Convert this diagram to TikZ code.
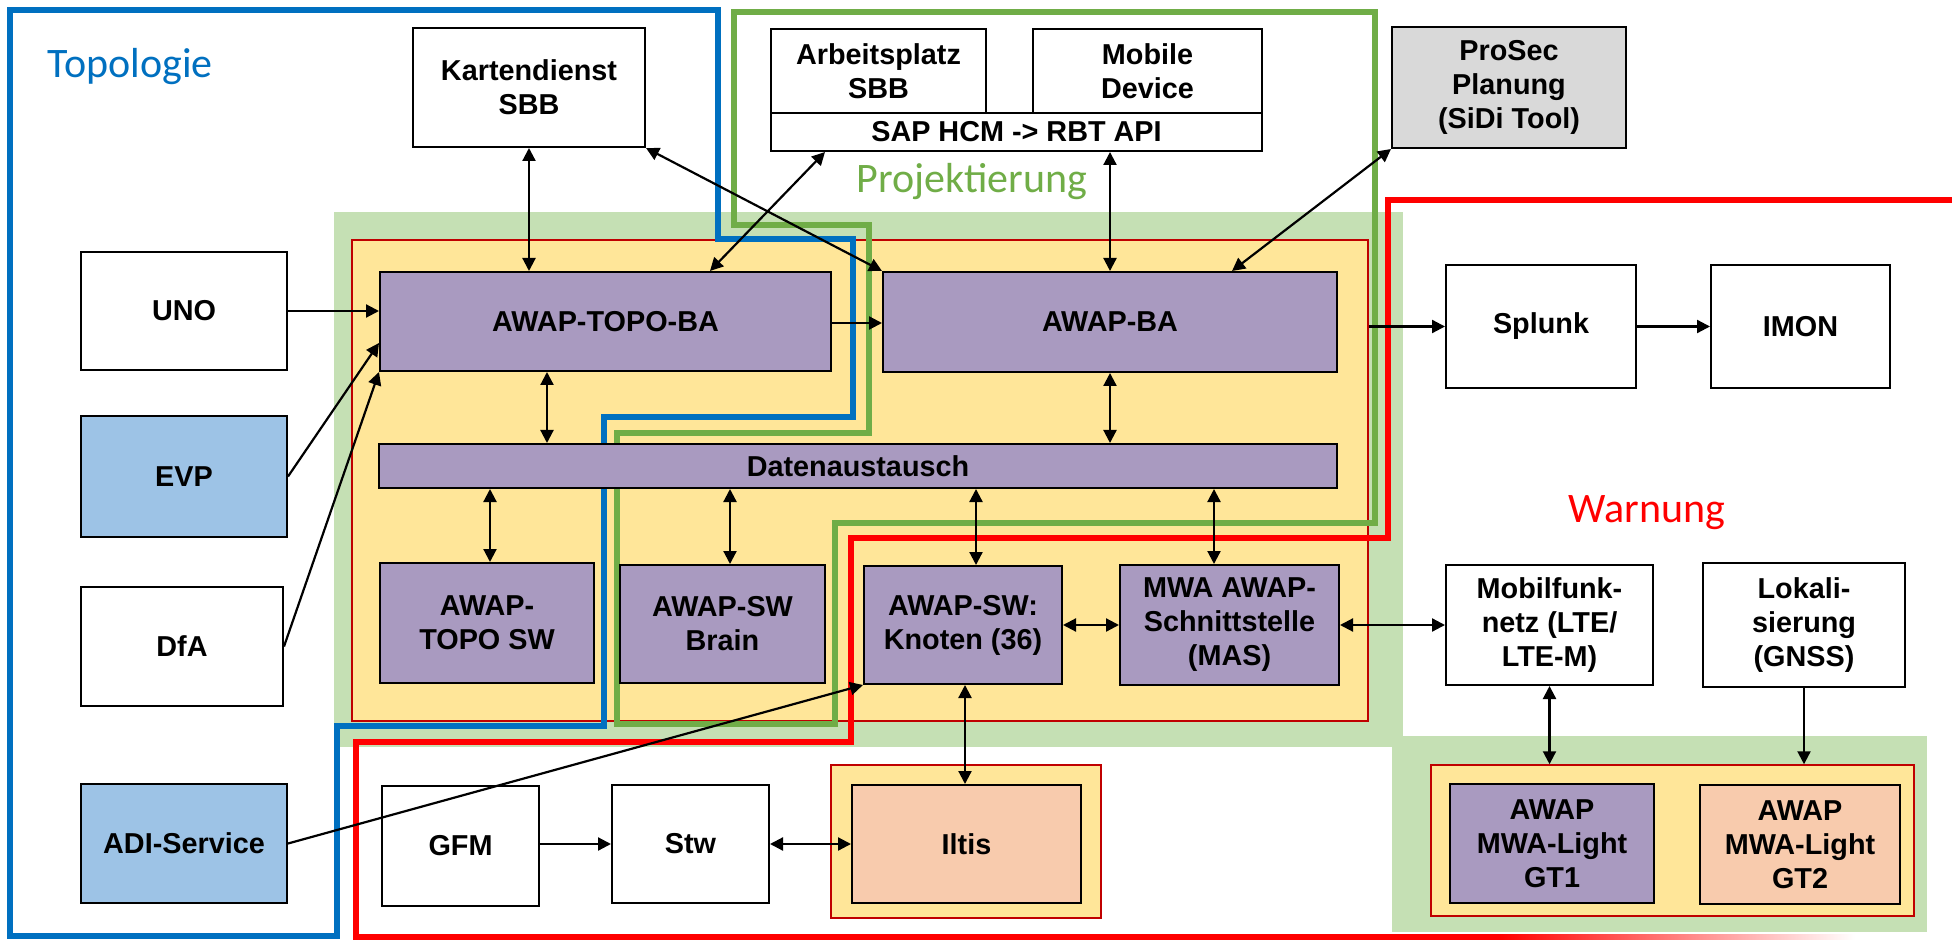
\documentclass[tikz,border=0pt]{standalone}
\usepackage{fontspec}
\setmainfont{Liberation Sans}
\newfontfamily\calib{Carlito}
\usetikzlibrary{arrows.meta,calc}
\definecolor{cblue}{HTML}{0070C0}
\definecolor{cgreen}{HTML}{70AD47}
\definecolor{cred}{HTML}{FF0000}
\definecolor{dred}{HTML}{C00000}
\definecolor{bggreen}{HTML}{C5E0B4}
\definecolor{bgyellow}{HTML}{FFE699}
\definecolor{purp}{HTML}{A99AC0}
\definecolor{lblue}{HTML}{9DC3E6}
\definecolor{peach}{HTML}{F8CBAD}
\definecolor{lgray}{HTML}{D9D9D9}
\begin{document}
\begin{tikzpicture}[x=0.5pt,y=-0.5pt,
  sz/.style 2 args={minimum width=#1*0.5pt,minimum height=#2*0.5pt},
  box/.style={draw=black,line width=1pt,fill=white,align=center,inner sep=0pt,
    font=\bfseries\fontsize{14.4}{17}\selectfont},
  bgarea/.style={draw=none,fill=bggreen,inner sep=0pt},
  grp/.style={draw=dred,line width=0.75pt,fill=bgyellow,inner sep=0pt},
  region/.style={line width=2.6pt,line join=miter},
  lbl/.style={font=\calib\fontsize{21}{25}\selectfont,inner sep=0pt},
  arr/.style={line width=1.1pt,-{Triangle[length=6.5pt,width=6.5pt]}},
  dbl/.style={line width=1.1pt,{Triangle[length=6.5pt,width=6.5pt]}-{Triangle[length=6.5pt,width=6.5pt]}}]
\fill[white] (0,0) rectangle (1952,940);
\useasboundingbox (0,0) rectangle (1952,940);
% background areas
\node[bgarea,sz={1069}{535}] (gbg) at (868.5,479.5) {};
\node[bgarea,sz={535}{196}] (gbg2) at (1659.5,834) {};
\node[grp,sz={1016}{481}] (yel) at (860,480.5) {};
\node[grp,sz={483}{151}] (yel2) at (1672.5,840.5) {};
\node[grp,sz={270}{153}] (yel3) at (966,841.5) {};
% region outlines
\draw[region,cblue] (10,10) -- (718,10) -- (718,239) -- (853,239) -- (853,417) -- (604,417)
  -- (604,726) -- (337,726) -- (337,936) -- (10,936) -- cycle;
\draw[region,cgreen] (617,433) -- (869,433) -- (869,225) -- (734,225) -- (734,12) -- (1375,12)
  -- (1375,523) -- (835,523) -- (835,724) -- (617,724) -- cycle;
\draw[region,cred] (1960,200) -- (1388,200) -- (1388,538) -- (851,538) -- (851,742)
  -- (356,742) -- (356,937) -- (1500,937);
\shade[left color=cred,right color=white] (1500,934.4) rectangle (1855,939.6);
% labels
\node[lbl,text=cblue] (ltopo) at (130,67) {Topologie};
\node[lbl,text=cgreen] (lproj) at (972,182) {Projektierung};
\node[lbl,text=cred] (lwarn) at (1647,513) {Warnung};
% top row
\node[box,sz={232}{119}] (kd) at (529,87.5) {Kartendienst\\SBB};
\node[box,sz={215}{84}] (ap) at (878.5,71) {Arbeitsplatz\\SBB};
\node[box,sz={229}{84}] (md) at (1147.5,71) {Mobile\\Device};
\node[box,sz={491}{38}] (sap) at (1016.5,132) {SAP HCM -> RBT API};
\node[box,fill=lgray,sz={234}{121}] (ps) at (1509,87.5) {ProSec\\Planung\\(SiDi Tool)};
% left column
\node[box,sz={206}{118}] (uno) at (184,311) {UNO};
\node[box,fill=lblue,sz={206}{121}] (evp) at (184,476.5) {EVP};
\node[box,sz={202}{119}] (dfa) at (182,646.5) {DfA};
\node[box,fill=lblue,sz={206}{119}] (adi) at (184,843.5) {ADI-Service};
% core
\node[box,fill=purp,sz={451}{99}] (topoba) at (605.5,321.5) {AWAP-TOPO-BA};
\node[box,fill=purp,sz={454}{100}] (awapba) at (1110,322) {AWAP-BA};
\node[box,fill=purp,sz={958}{44}] (daten) at (858,466) {Datenaustausch};
\node[box,fill=purp,sz={214}{120}] (toposw) at (487,623) {AWAP-\\TOPO SW};
\node[box,fill=purp,sz={205}{118}] (brain) at (722.5,624) {AWAP-SW\\Brain};
\node[box,fill=purp,sz={198}{118}] (knoten) at (963,625) {AWAP-SW:\\Knoten (36)};
\node[box,fill=purp,sz={219}{120}] (mas) at (1229.5,625) {MWA AWAP-\\Schnittstelle\\(MAS)};
% right
\node[box,sz={190}{123}] (splunk) at (1541,326.5) {Splunk};
\node[box,sz={179}{123}] (imon) at (1800.5,326.5) {IMON};
\node[box,sz={207}{120}] (mobil) at (1549.5,625) {Mobilfunk-\\netz (LTE/\\LTE-M)};
\node[box,sz={202}{124}] (lokal) at (1804,625) {Lokali-\\sierung\\(GNSS)};
% bottom
\node[box,sz={157}{120}] (gfm) at (460.5,846) {GFM};
\node[box,sz={157}{118}] (stw) at (690.5,844) {Stw};
\node[box,fill=peach,sz={229}{118}] (iltis) at (966.5,844) {Iltis};
\node[box,fill=purp,sz={204}{119}] (gt1) at (1552,843.5) {AWAP\\MWA-Light\\GT1};
\node[box,fill=peach,sz={200}{119}] (gt2) at (1800,844.5) {AWAP\\MWA-Light\\GT2};
% connectors
\draw[dbl] (kd.south) -- (kd.south |- topoba.north);
\draw[dbl] (kd.south east) -- (awapba.north west);
\draw[dbl] (825,0 |- sap.south) -- (710,0 |- topoba.north);
\draw[dbl] (awapba.north |- sap.south) -- (awapba.north);
\draw[dbl] (ps.south west) -- (1232,0 |- awapba.north);
\draw[arr] (uno.east) -- (uno.east -| topoba.west);
\draw[arr] (evp.east) -- (topoba.west |- 0,343);
\draw[arr] (dfa.east) -- (topoba.south west);
\draw[arr] (topoba.east |- 0,323) -- (awapba.west |- 0,323);
\draw[arr] (yel.east |- splunk.west) -- (splunk.west);
\draw[arr] (splunk.east) -- (imon.west);
\draw[dbl] (547,0 |- topoba.south) -- (547,0 |- daten.north);
\draw[dbl] (awapba.south) -- (awapba.south |- daten.north);
\draw[dbl] (490,0 |- daten.south) -- (490,0 |- toposw.north);
\draw[dbl] (730,0 |- daten.south) -- (730,0 |- brain.north);
\draw[dbl] (976,0 |- daten.south) -- (976,0 |- knoten.north);
\draw[dbl] (1214,0 |- daten.south) -- (1214,0 |- mas.north);
\draw[dbl] (knoten.east) -- (knoten.east -| mas.west);
\draw[dbl] (mas.east) -- (mas.east -| mobil.west);
\draw[dbl] (mobil.south) -- (mobil.south |- yel2.north);
\draw[arr] (lokal.south) -- (lokal.south |- yel2.north);
\draw[arr] (adi.east) -- (knoten.south west);
\draw[dbl] (965,0 |- knoten.south) -- (965,0 |- iltis.north);
\draw[arr] (gfm.east |- 0,844) -- (stw.west |- 0,844);
\draw[dbl] (stw.east) -- (iltis.west);
\end{tikzpicture}
\end{document}
